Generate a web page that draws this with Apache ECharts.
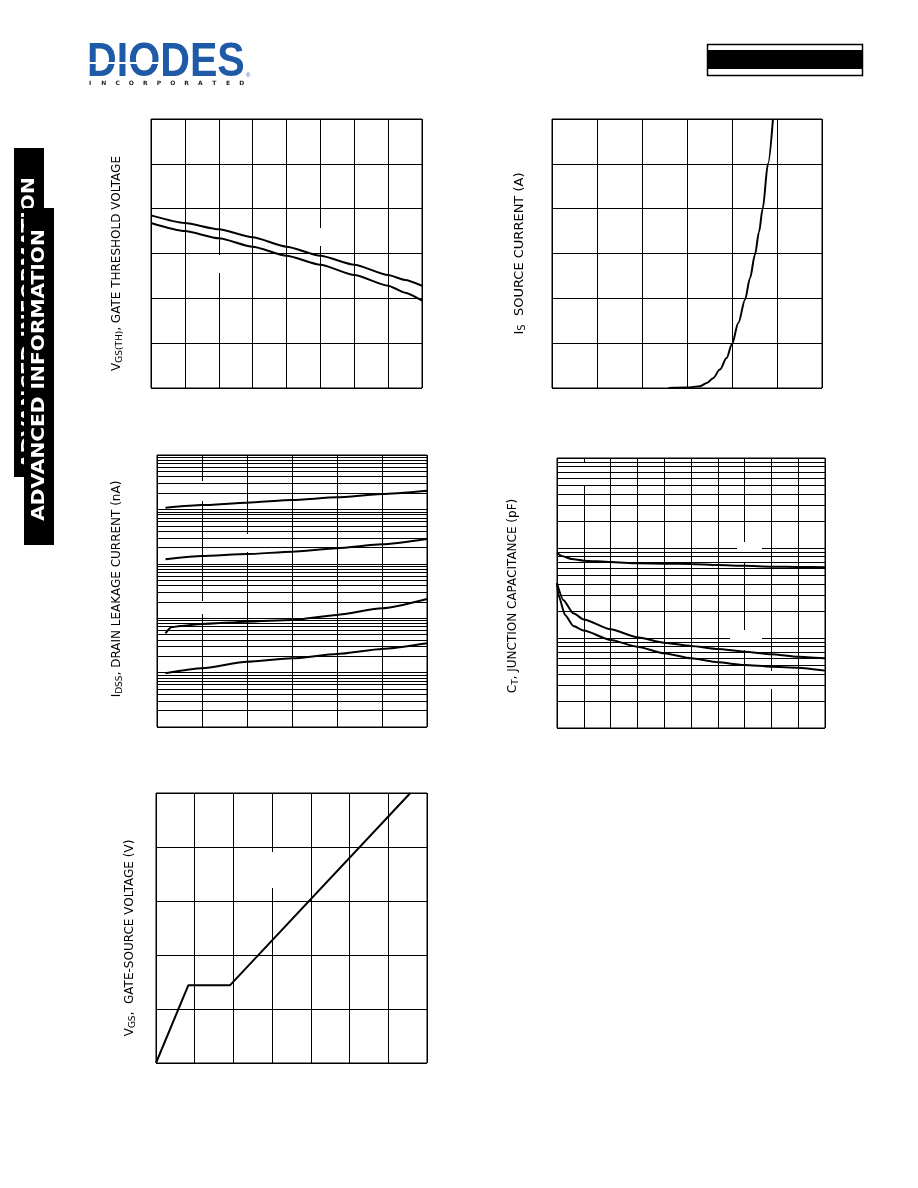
<!DOCTYPE html>
<html><head><meta charset="utf-8">
<script src="https://cdn.jsdelivr.net/npm/echarts@6/dist/echarts.min.js"></script>
<style>html,body{margin:0;padding:0;background:#fff;}#c{width:918px;height:1188px;}</style>
</head><body><div id="c"></div>
<script>
// ---- Fig 1: gate threshold voltage vs junction temperature
const f1Temp = [-50, -25, 0, 25, 50, 75, 100, 125, 137.5, 150];
const f1Upper = [1.925, 1.84, 1.77, 1.68, 1.575, 1.475, 1.375, 1.26, 1.205, 1.14];
const f1Lower = [1.84, 1.75, 1.67, 1.575, 1.475, 1.375, 1.26, 1.14, 1.063, 0.975];
// ---- Fig 2: source current vs source-drain voltage
const f2Vsd = [0.518, 0.6, 0.658, 0.688, 0.716, 0.746, 0.776, 0.8, 0.828, 0.858, 0.88, 0.902, 0.92, 0.936, 0.96, 0.982];
const f2Is = [0, 0.005, 0.02, 0.055, 0.11, 0.205, 0.335, 0.49, 0.725, 0.985, 1.225, 1.485, 1.74, 1.995, 2.5, 3.0];
// ---- Fig 3: drain leakage current vs temperature (log)
const f3TempA = [4.7, 25, 50, 75, 100, 125, 150];
const f3A = [107, 120, 133, 149, 167, 192, 221];
const f3B = [12.1, 13.9, 15.1, 16.7, 19.3, 22.8, 28.6];
const f3TempC = [4.7, 8, 12.8, 25, 50, 75, 100, 125, 150];
const f3C = [0.527, 0.681, 0.719, 0.782, 0.863, 0.927, 1.15, 1.52, 2.25];
const f3D = [0.097, 0.120, 0.158, 0.183, 0.220, 0.272, 0.346];
// ---- Fig 4: junction capacitance vs drain-source voltage (log)
const f4VTop = [0, 0.35, 1.1, 2, 4, 6, 8, 10, 12, 14, 16, 18, 20];
const f4Top = [88.7, 81.5, 75.5, 72.3, 69.8, 67.6, 67.0, 66.4, 64.7, 63.5, 62.0, 61.5, 61.1];
const f4VMid = [0, 0.47, 1.22, 2, 4, 6, 8, 10, 12, 14, 16, 18, 20];
const f4Mid = [40.6, 26.4, 18.8, 16.1, 12.5, 10.2, 8.87, 8.15, 7.55, 7.05, 6.59, 6.19, 5.94];
const f4VLow = [0, 0.1, 0.6, 1.22, 2, 4, 6, 8, 10, 12, 14, 16, 18, 20];
const f4Low = [40.6, 30.1, 18.0, 13.6, 12.1, 9.51, 8.0, 6.76, 5.94, 5.37, 5.01, 4.80, 4.68, 4.34];
// ---- Fig 5: gate charge
const f5Qg = [0, 0.834, 1.909, 6.57];
const f5Vgs = [0, 2.876, 2.876, 10.0];
// axis names
const yNames = [
  '{n|V}{s|GS(TH)}{n|, GATE THRESHOLD VOLTAGE}',
  '{n|I}{s|S}{n|  SOURCE CURRENT (A)}',
  '{n|I}{s|DSS}{n|, DRAIN LEAKAGE CURRENT (nA)}',
  '{n|C}{s|T}{n|, JUNCTION CAPACITANCE (pF)}',
  '{n|V}{s|GS}{n|,  GATE-SOURCE VOLTAGE (V)}'
];

const FONT = '"DejaVu Sans", "Liberation Sans", Arial, sans-serif';
const zip = (xs, ys) => xs.map((x, i) => [x, ys[i]]);
const grids = [
  {left: 151, top: 119, width: 271, height: 269},
  {left: 552, top: 119, width: 270, height: 269},
  {left: 157, top: 455, width: 270, height: 272},
  {left: 557, top: 458, width: 268, height: 270},
  {left: 156, top: 793, width: 271, height: 270}
].map(g => Object.assign({show: true, borderColor: '#000', borderWidth: 1, backgroundColor: 'transparent', containLabel: false}, g));

const splitL = {show: true, lineStyle: {color: '#000', width: 1, type: 'solid'}};
function xAx(gi, min, max, interval) {
  return {type: 'value', gridIndex: gi, min, max, interval, axisLine: {show: false}, axisTick: {show: false}, axisLabel: {show: false}, splitLine: splitL};
}
function yAx(gi, type, min, max, interval, gap, pad, fs) {
  const a = {type, gridIndex: gi, min, max, axisLine: {show: false}, axisTick: {show: false}, axisLabel: {show: false}, splitLine: splitL,
    name: yNames[gi], nameLocation: 'middle', nameGap: gap, nameRotate: 90,
    nameTextStyle: {color: '#000', fontFamily: FONT, fontSize: fs, padding: pad,
      rich: {n: {fontFamily: FONT, fontSize: fs, color: '#000', lineHeight: 14},
             s: {fontFamily: FONT, fontSize: fs - 3, color: '#000', lineHeight: 6, verticalAlign: 'bottom'}}}};
  if (type === 'log') a.logBase = 10; else a.interval = interval;
  return a;
}
const xAxes = [xAx(0, -50, 150, 25), xAx(1, 0, 1.2, 0.2), xAx(2, 0, 150, 25), xAx(3, 0, 20, 2), xAx(4, 0, 7, 1)];
const yAxes = [
  yAx(0, 'value', 0, 3, 0.5, 27, [0, 20, 0, 0], 12),
  yAx(1, 'value', 0, 3, 0.5, 25, [0, 0, 0, 0], 13),
  yAx(2, 'log', 0.01, 1000, null, 33, [0, 0, 0, 4], 12),
  yAx(3, 'log', 1, 1000, null, 37, [0, 6, 0, 0], 12),
  yAx(4, 'value', 0, 10, 2, 19, [0, 20, 0, 0], 12)
];

function minorVals(lo, hi) { // log grid lines 2..9 x 10^k
  const out = [];
  for (let e = lo; e < hi; e++) for (let m = 2; m <= 9; m++) out.push({yAxis: +(m * Math.pow(10, e)).toPrecision(3)});
  return out;
}
function minorSeries(gi, lo, hi) {
  return {type: 'line', xAxisIndex: gi, yAxisIndex: gi, data: [], z: 1, silent: true,
    markLine: {silent: true, symbol: ['none', 'none'], label: {show: false}, animation: false,
      lineStyle: {color: '#000', width: 1, type: 'solid'}, emphasis: {disabled: true}, data: minorVals(lo, hi)}};
}
function curve(gi, name, data, smooth) {
  return {type: 'line', name, xAxisIndex: gi, yAxisIndex: gi, data, z: 3, symbol: 'none', smooth: smooth || false,
    smoothMonotone: 'x', silent: true, lineStyle: {color: '#000', width: 2}};
}
const series = [
  curve(0, 'upper', zip(f1Temp, f1Upper), 0.2),
  curve(0, 'lower', zip(f1Temp, f1Lower), 0.2),
  curve(1, 'Is', zip(f2Vsd, f2Is), 0.3),
  minorSeries(2, -2, 3),
  curve(2, 'A', zip(f3TempA, f3A), 0.2),
  curve(2, 'B', zip(f3TempA, f3B), 0.2),
  curve(2, 'C', zip(f3TempC, f3C), 0.2),
  curve(2, 'D', zip(f3TempA, f3D), 0.2),
  minorSeries(3, 0, 3),
  curve(3, 'Ciss', zip(f4VTop, f4Top), 0.2),
  curve(3, 'Coss', zip(f4VMid, f4Mid), 0.2),
  curve(3, 'Crss', zip(f4VLow, f4Low), 0.2),
  curve(4, 'Vgs', zip(f5Qg, f5Vgs), false)
];

// decorations
const patches = [[318,228,6,18],[216,255,6,18],[178,481,57,20],[210,534,48,18],[159,601,81,13],[204,645,40,13],
  [563,463,44,22],[737,542,25,21],[730,630,32,20],[755,671,22,18],[269,852,6,36]];
const graphic = [];
patches.forEach(p => graphic.push({type: 'rect', z: 2, silent: true, shape: {x: p[0], y: p[1], width: p[2], height: p[3]}, style: {fill: '#fff'}}));
// logo
graphic.push({type: 'text', z: 5, x: 87, y: 62, scaleX: 0.84, style: {text: 'DIODES', font: 'bold 49px "Liberation Sans", Arial, sans-serif', fill: '#1f5aa6', verticalAlign: 'middle', align: 'left'}});
graphic.push({type: 'rect', z: 6, shape: {x: 88, y: 62, width: 72, height: 2}, style: {fill: '#fff'}});
graphic.push({type: 'text', z: 5, x: 246, y: 75, style: {text: '®', font: '6px sans-serif', fill: '#1f5aa6', verticalAlign: 'middle'}});
'INCORPORATED'.split('').forEach((ch, i) => graphic.push({type: 'text', z: 5, x: 90 + i * 13.8, y: 83, style: {text: ch, font: 'bold 6px "DejaVu Sans", sans-serif', fill: '#222', align: 'center', verticalAlign: 'middle'}}));
// top-right box
graphic.push({type: 'rect', z: 5, shape: {x: 707.5, y: 44.5, width: 155, height: 31}, style: {fill: '#fff', stroke: '#000', lineWidth: 1.5}});
graphic.push({type: 'rect', z: 6, shape: {x: 708, y: 50, width: 154, height: 19}, style: {fill: '#000'}});
// side banner
graphic.push({type: 'rect', z: 5, shape: {x: 14, y: 148, width: 30, height: 329}, style: {fill: '#000'}});
graphic.push({type: 'text', z: 6, x: 29, y: 323, rotation: Math.PI / 2, scaleX: 1.12, style: {text: 'ADVANCED INFORMATION', font: 'bold 18px "DejaVu Sans", sans-serif', fill: '#fff', align: 'center', verticalAlign: 'middle'}});
graphic.push({type: 'rect', z: 7, shape: {x: 24, y: 208, width: 30, height: 337}, style: {fill: '#000'}});
graphic.push({type: 'text', z: 8, x: 39, y: 375, rotation: Math.PI / 2, scaleX: 1.12, style: {text: 'ADVANCED INFORMATION', font: 'bold 18px "DejaVu Sans", sans-serif', fill: '#fff', align: 'center', verticalAlign: 'middle'}});

const chart = echarts.init(document.getElementById('c'), null, {renderer: 'canvas'});
chart.setOption({animation: false, backgroundColor: '#fff', grid: grids, xAxis: xAxes, yAxis: yAxes, series, graphic: {elements: graphic}});
</script></body></html>
